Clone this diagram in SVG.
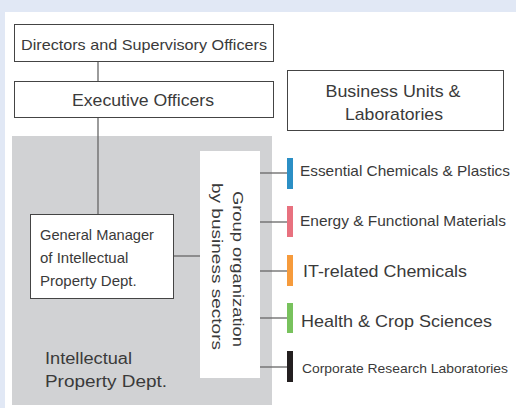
<svg xmlns="http://www.w3.org/2000/svg" width="516" height="408" viewBox="0 0 516 408">
<style>
text{font-family:"Liberation Sans",Arial,sans-serif;fill:#3a3a3a;}
.box{fill:#fff;stroke:#444;stroke-width:1;}
.ln{stroke:#666;stroke-width:1.3;fill:none;}
</style>
<rect x="0" y="0" width="516" height="408" fill="#fff"/>
<rect x="0" y="0" width="516" height="12" fill="#e1e8f5"/>
<rect x="0" y="0" width="5" height="408" fill="#e1e8f5"/>
<rect id="ipd-area" x="12" y="136" width="260" height="269" fill="#d1d2d4"/>
<g id="connectors">
<path class="ln" d="M98 62V81"/>
<path class="ln" d="M98 118V214"/>
<path class="ln" d="M174 256H200"/>
<path class="ln" d="M260 173H287"/>
<path class="ln" d="M260 222H287"/>
<path class="ln" d="M260 271H287"/>
<path class="ln" d="M260 318H287" stroke="#333"/>
<path class="ln" d="M260 367H287" stroke="#444"/>
</g>
<g id="directors">
<rect class="box" x="14.5" y="24.5" width="259" height="37"/>
<text x="144" y="50" font-size="15" text-anchor="middle" textLength="246" lengthAdjust="spacingAndGlyphs">Directors and Supervisory Officers</text>
</g>
<g id="executive">
<rect class="box" x="14.5" y="81.5" width="259" height="36"/>
<text x="143" y="106" font-size="17" text-anchor="middle" textLength="142" lengthAdjust="spacingAndGlyphs">Executive Officers</text>
</g>
<g id="business-units">
<rect class="box" x="287.5" y="70.5" width="216" height="60"/>
<text x="393" y="97" font-size="17" text-anchor="middle" textLength="135" lengthAdjust="spacingAndGlyphs">Business Units &amp;</text>
<text x="394" y="120" font-size="17" text-anchor="middle" textLength="98" lengthAdjust="spacingAndGlyphs">Laboratories</text>
</g>
<g id="general-manager">
<rect class="box" x="30.5" y="214.5" width="143" height="84"/>
<text x="40" y="240" font-size="15" textLength="114" lengthAdjust="spacingAndGlyphs">General Manager</text>
<text x="40" y="263" font-size="15">of Intellectual</text>
<text x="40" y="286" font-size="15">Property Dept.</text>
</g>
<g id="ipd-label">
<text x="45" y="364" font-size="16" textLength="87" lengthAdjust="spacingAndGlyphs">Intellectual</text>
<text x="45" y="387" font-size="16" textLength="122" lengthAdjust="spacingAndGlyphs">Property Dept.</text>
</g>
<g id="group-organization">
<rect x="200" y="151" width="60" height="227" fill="#fff"/>
<text transform="translate(233,191) rotate(90)" font-size="15.5" textLength="156" lengthAdjust="spacingAndGlyphs">Group organization</text>
<text transform="translate(212,183) rotate(90)" font-size="15.5" textLength="167" lengthAdjust="spacingAndGlyphs">by business sectors</text>
</g>
<g id="essential">
<rect x="287" y="158" width="6" height="31" fill="#2b8fc5"/>
<text x="300" y="176" font-size="14.5" textLength="210" lengthAdjust="spacingAndGlyphs">Essential Chemicals &amp; Plastics</text>
</g>
<g id="energy">
<rect x="287" y="206" width="6" height="31" fill="#e8717f"/>
<text x="300" y="226" font-size="14.5" textLength="206" lengthAdjust="spacingAndGlyphs">Energy &amp; Functional Materials</text>
</g>
<g id="it">
<rect x="287" y="255" width="6" height="31" fill="#f69b3c"/>
<text x="303" y="277" font-size="17" textLength="164" lengthAdjust="spacingAndGlyphs">IT-related Chemicals</text>
</g>
<g id="health">
<rect x="287" y="303" width="6" height="30" fill="#78c25d"/>
<text x="301" y="327" font-size="17" textLength="191" lengthAdjust="spacingAndGlyphs">Health &amp; Crop Sciences</text>
</g>
<g id="corporate">
<rect x="287" y="351" width="6" height="31" fill="#231f20"/>
<text x="302" y="373" font-size="13.5" textLength="206" lengthAdjust="spacingAndGlyphs">Corporate Research Laboratories</text>
</g>
</svg>
